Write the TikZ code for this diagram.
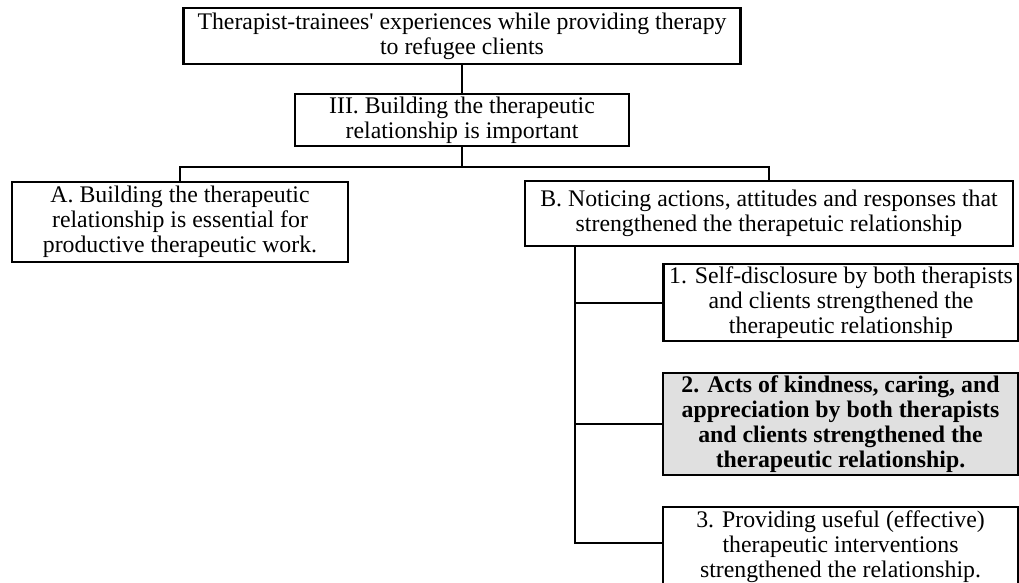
\documentclass[tikz,border=0pt]{standalone}
\usepackage{fontspec}
\setmainfont{Liberation Serif}
\usetikzlibrary{calc}
\begin{document}
\begin{tikzpicture}[x=1pt,y=-1pt,
  box/.style={draw=black,line width=2.4pt,fill=white,align=center,inner sep=0pt,
    font=\fontsize{23.8}{25}\selectfont},
  conn/.style={draw=black,line width=2pt}]
\useasboundingbox (0,0) rectangle (1019,582);
\begin{scope}
\clip (0,0) rectangle (1019,582);
\node[box,minimum width=557pt,minimum height=56pt] (top) at (462,36)
  {Therapist-trainees\textquotesingle{} experiences while providing therapy\\to refugee clients};
\node[box,minimum width=334pt,minimum height=52pt] (III) at (462,120)
  {III. Building the therapeutic\\relationship is important};
\node[box,minimum width=336pt,minimum height=80pt] (A) at (180,222)
  {A. Building the therapeutic\\relationship is essential for\\productive therapeutic work.};
\node[box,minimum width=488pt,minimum height=65pt] (B) at (769,213.5)
  {B. Noticing actions, attitudes and responses that\\strengthened the therapetuic relationship};
\node[box,minimum width=355pt,minimum height=77pt] (one) at (841,302.5)
  {1. Self-disclosure by both therapists\\and clients strengthened the\\therapeutic relationship};
\node[box,fill={rgb,255:red,224;green,224;blue,224},minimum width=355pt,minimum height=102pt] (two) at (840.5,424)
  {\bfseries 2. Acts of kindness, caring, and\\\bfseries appreciation by both therapists\\\bfseries and clients strengthened the\\\bfseries therapeutic relationship.};
\node[box,minimum width=355pt,minimum height=80pt] (three) at (840.5,547)
  {3. Providing useful (effective)\\therapeutic interventions\\strengthened the relationship.};
\coordinate (c1) at (462,167);
\coordinate (c2) at (575,543);
\draw[conn] (top.south) -- (III.north);
\draw[conn] (III.south) -- (c1);
\draw[conn] (A.north) -- (A.north |- c1) -- (B.north |- c1) -- (B.north);
\draw[conn] (B.south -| c2) -- (c2) -- (three.west |- c2);
\draw[conn] (c2 |- one.west) -- (one.west);
\draw[conn] (c2 |- two.west) -- (two.west);
\end{scope}
\end{tikzpicture}
\end{document}
